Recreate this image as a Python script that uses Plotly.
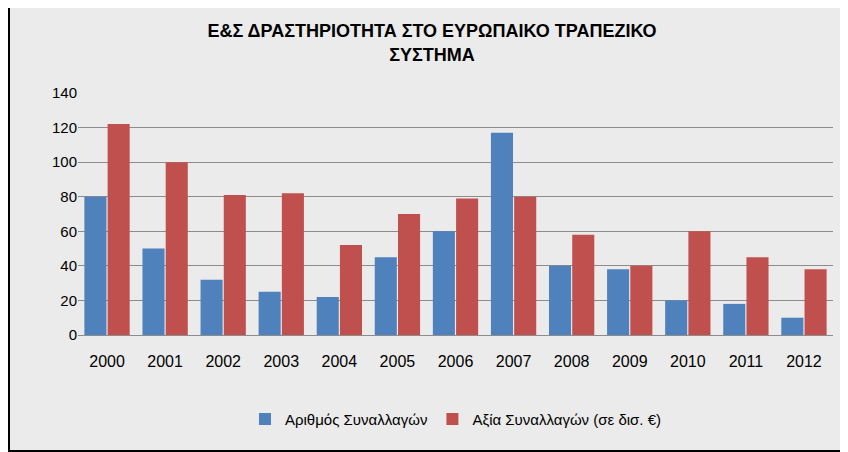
import plotly.graph_objects as go

years = ["2000", "2001", "2002", "2003", "2004", "2005", "2006",
         "2007", "2008", "2009", "2010", "2011", "2012"]
deal_count = [80, 50, 32, 25, 22, 45, 60, 117, 40, 38, 20, 18, 10]
deal_value = [122, 100, 81, 82, 52, 70, 79, 80, 58, 40, 60, 45, 38]

fig = go.Figure()
fig.add_bar(x=years, y=deal_count, name="Αριθμός Συναλλαγών",
            marker=dict(color="#4F81BD", line=dict(width=0)))
fig.add_bar(x=years, y=deal_value, name="Αξία Συναλλαγών (σε δισ. €)",
            marker=dict(color="#C0504D", line=dict(width=0)))

fig.update_layout(
    width=848, height=452,
    font=dict(family="Liberation Sans, Arial, sans-serif", size=15, color="#000"),
    title=dict(text="<b>Ε&Σ ΔΡΑΣΤΗΡΙΟΤΗΤΑ ΣΤΟ ΕΥΡΩΠΑΙΚΟ ΤΡΑΠΕΖΙΚΟ<br>ΣΥΣΤΗΜΑ</b>",
               x=0.5, xanchor="center", y=0.935, yanchor="top",
               font=dict(size=18)),
    paper_bgcolor="#ebebeb", plot_bgcolor="rgba(0,0,0,0)",
    margin=dict(l=70, r=23, t=85, b=125),
    barmode="group", bargap=0.2, bargroupgap=0.05,
    legend=dict(orientation="h", x=0.5, xanchor="center", y=-0.28, yanchor="top",
                font=dict(size=15), bgcolor="rgba(0,0,0,0)"),
    showlegend=True,
)
fig.update_yaxes(range=[0, 140], dtick=20, showgrid=True, gridcolor="#8c8c8c",
                 gridwidth=1, zeroline=False, showline=False, ticks="")
fig.update_xaxes(showline=True, linecolor="#8c8c8c", ticks="", tickfont=dict(size=16),
                 ticklabelstandoff=12)
fig.add_shape(type="rect", xref="paper", yref="paper", x0=-0.0914, x1=1.029,
              y0=-0.479, y1=1.38, line=dict(color="#000", width=2))

fig.write_html("out.html")
